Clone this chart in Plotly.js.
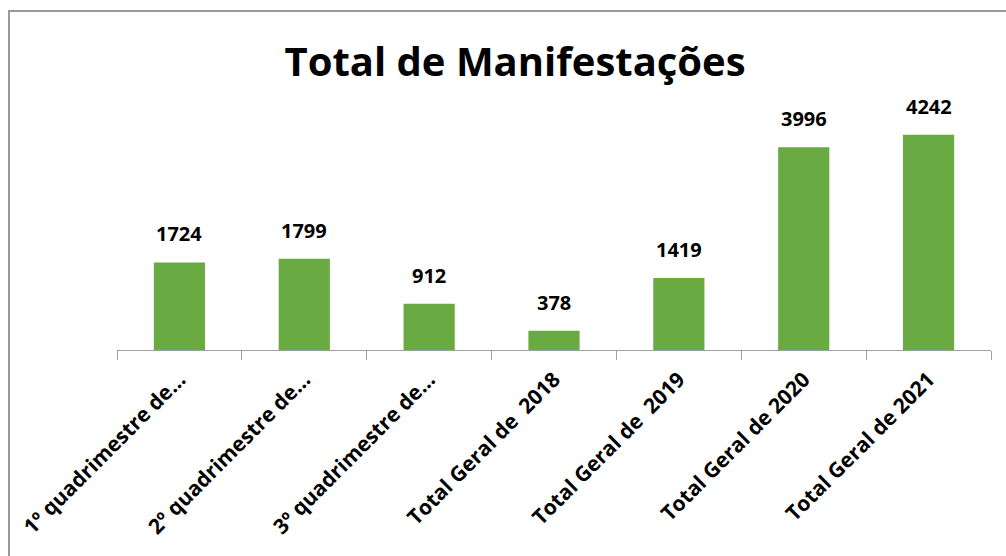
<!DOCTYPE html>
<html>
<head>
<meta charset="utf-8">
<script src="https://cdn.plot.ly/plotly-3.0.1.min.js"></script>
<style>
  html, body { margin: 0; padding: 0; background: #fff; }
  #wrap { position: relative; width: 1006px; height: 556px; overflow: hidden; }
  #frame { position: absolute; left: 8px; top: 10px; width: 1100px; height: 700px;
           border-left: 2px solid #9a9a9a; border-top: 2px solid #9a9a9a; box-sizing: border-box; }
  #chart { position: absolute; left: 0; top: 0; width: 1006px; height: 556px; }
</style>
</head>
<body>
<div id="wrap">
  <div id="chart"></div>
  <div id="frame"></div>
</div>
<script>
// Categories and values
const categories = [
    '1º quadrimestre de…',
    '2º quadrimestre de…',
    '3º quadrimestre de…',
    'Total Geral de\u00a0 2018',
    'Total Geral de\u00a0 2019',
    'Total Geral de 2020',
    'Total Geral de 2021'
];
const values = [1724, 1799, 912, 378, 1419, 3996, 4242];

const font = '"Open Sans", Lato, sans-serif';

const trace = {
    type: 'bar',
    x: categories,
    y: values,
    marker: { color: '#69aa42' },
    hoverinfo: 'x+y'
};

// value labels above each bar
const labels = categories.map((c, i) => ({
    x: c, y: values[i],
    text: String(values[i]),
    showarrow: false,
    yanchor: 'bottom',
    yshift: 13,
    font: { family: font, size: 20, color: '#000', weight: 'bold' }
}));

const layout = {
    width: 1006,
    height: 556,
    paper_bgcolor: 'rgba(0,0,0,0)',
    plot_bgcolor: 'rgba(0,0,0,0)',
    margin: { t: 60, r: 15, b: 206, l: 117 },
    title: {
        text: '<b>Total de Manifestações</b>',
        xref: 'container', x: 0.512, xanchor: 'center',
        yref: 'container', y: 0.888, yanchor: 'middle',
        font: { family: font, size: 40, color: '#000' }
    },
    bargap: 0.59,
    xaxis: {
        showline: true,
        linecolor: '#a0a0a0',
        linewidth: 1,
        ticks: 'outside',
        tickson: 'boundaries',
        ticklen: 9,
        tickcolor: '#a0a0a0',
        tickangle: -45,
        ticklabelstandoff: 8,
        tickfont: { family: font, size: 21, color: '#000', weight: 'bold' }
    },
    yaxis: {
        range: [0, 5713],
        visible: false,
        showgrid: false,
        zeroline: false
    },
    annotations: labels,
    showlegend: false
};

Plotly.newPlot('chart', [trace], layout, { displayModeBar: false, staticPlot: true });
</script>
</body>
</html>
